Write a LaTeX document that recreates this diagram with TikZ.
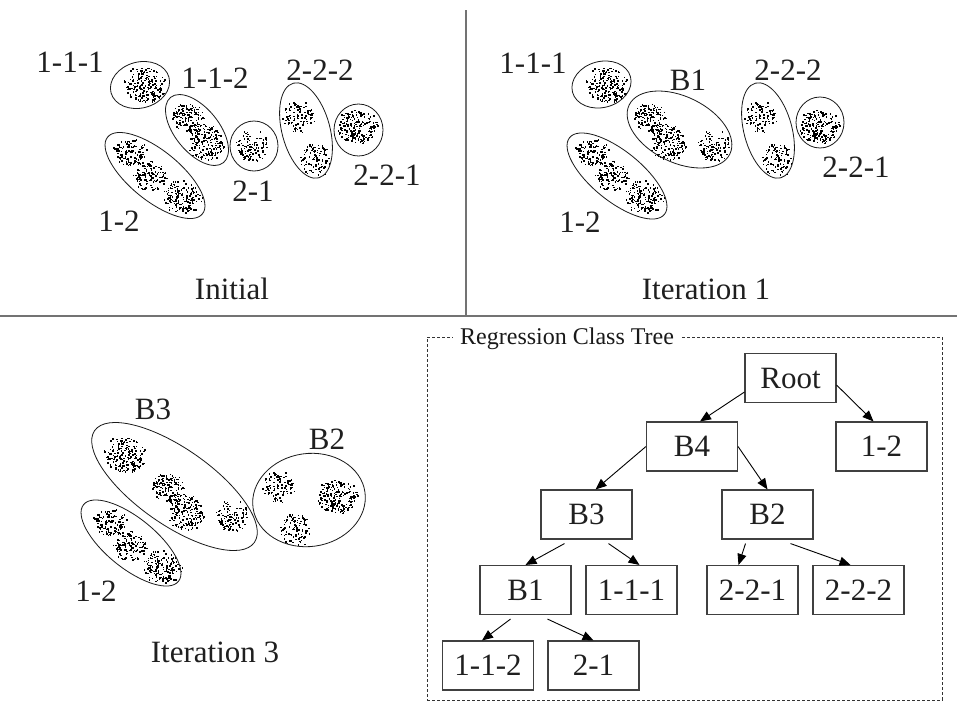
\documentclass[tikz,border=0pt]{standalone}
\usepackage{fontspec}
\setmainfont{Liberation Serif}
\usetikzlibrary{arrows.meta,shapes.geometric}

% one cluster of scattered points: centre x, centre y, radius x, radius y, count
\newcommand\dotblob[5]{%
  \foreach \k in {1,...,#5}{%
    \pgfmathsetmacro\dang{360*rnd}%
    \pgfmathsetmacro\drad{sqrt(rnd)*(0.8+0.2*rnd)}%
    \fill[dotc] ({#1+#3*\drad*cos(\dang)},{#2+#4*\drad*sin(\dang)}) rectangle ++(1.5,1.5);
  }}

% the full set of data clusters, in the coordinates of the first panel
\newcommand\dotcloud{%
  \dotblob{144}{84}{23}{20}{190}%
  \dotblob{188}{117}{17}{16}{140}%
  \dotblob{206}{142}{19}{19}{170}%
  \dotblob{130}{152}{18}{15}{125}%
  \dotblob{150}{176}{18}{16}{125}%
  \dotblob{182}{196}{21}{18}{160}%
  \dotblob{252}{146}{18}{18}{105}%
  \dotblob{298}{116}{18}{17}{95}%
  \dotblob{315}{159}{16}{18}{100}%
  \dotblob{358}{126}{23}{18}{210}%
}

\begin{document}
\begin{tikzpicture}[x=1pt,y=-1pt,
  dotc/.style={black},
  clus/.style={draw=black!90, line width=0.8pt, ellipse, inner sep=0pt, outer sep=0pt},
  lbl/.style={inner sep=0pt, text=black!88, font=\fontsize{31}{31}\selectfont},
  tnode/.style={draw=black!75, line width=1.1pt, minimum width=91pt, minimum height=49pt,
    inner sep=0pt, text=black!88, font=\fontsize{31}{31}\selectfont},
  arr/.style={-{Triangle[length=11pt,width=9pt]}, line width=0.9pt, black},
  divider/.style={draw=black!55, line width=1.4pt}]

\useasboundingbox (0,0) rectangle (957,702);

% panel dividers
\draw[divider] (466,10) -- (466,316);
\draw[divider] (0,316) -- (957,316);

% ---------- Initial ----------
\begin{scope}
  \pgfmathsetseed{7}\dotcloud
\end{scope}
\node[clus, minimum width=60pt, minimum height=46pt, rotate=15] (i0a) at (140,85) {};
\node[clus, minimum width=84pt, minimum height=44pt, rotate=-51] (i0b) at (197,130) {};
\node[clus, minimum width=122pt, minimum height=50pt, rotate=-39] (i0c) at (155,175.5) {};
\node[clus, minimum width=48pt, minimum height=50pt] (i0d) at (254,146) {};
\node[clus, minimum width=98pt, minimum height=48pt, rotate=-75] (i0e) at (306,130.5) {};
\node[clus, minimum width=49pt, minimum height=52pt] (i0f) at (358.5,130) {};
\node[lbl] (l0a) at (70,62) {1-1-1};
\node[lbl] (l0b) at (215,78) {1-1-2};
\node[lbl] (l0c) at (320,70) {2-2-2};
\node[lbl] (l0d) at (253,191) {2-1};
\node[lbl] (l0e) at (387,175) {2-2-1};
\node[lbl] (l0f) at (119,221) {1-2};
\node[lbl] (t0) at (232,289) {Initial};

% ---------- Iteration 1 ----------
\begin{scope}[shift={(462,0)}]
  \pgfmathsetseed{7}\dotcloud
\end{scope}
\node[clus, minimum width=60pt, minimum height=46pt, rotate=15] (i1a) at (601.5,84.5) {};
\node[clus, minimum width=112pt, minimum height=66pt, rotate=-26] (i1b) at (679.5,129.5) {};
\node[clus, minimum width=122pt, minimum height=50pt, rotate=-39] (i1c) at (617,176) {};
\node[clus, minimum width=98pt, minimum height=48pt, rotate=-75] (i1d) at (768,130.5) {};
\node[clus, minimum width=48pt, minimum height=51pt] (i1e) at (820,122.5) {};
\node[lbl] (l1a) at (533,63) {1-1-1};
\node[lbl] (l1b) at (688,80) {B1};
\node[lbl] (l1c) at (788,70) {2-2-2};
\node[lbl] (l1d) at (856,167) {2-2-1};
\node[lbl] (l1e) at (580,222) {1-2};
\node[lbl] (t1) at (706,289) {Iteration 1};

% ---------- Iteration 3 ----------
\begin{scope}[shift={(-20,370)}]
  \pgfmathsetseed{7}\dotcloud
\end{scope}
\node[clus, minimum width=195pt, minimum height=76pt, rotate=-35] (i3a) at (174.5,486.5) {};
\node[clus, minimum width=113pt, minimum height=93pt, rotate=8] (i3b) at (309,500) {};
\node[clus, minimum width=122pt, minimum height=50pt, rotate=-39] (i3c) at (131,543) {};
\node[lbl] (l3a) at (153,409) {B3};
\node[lbl] (l3b) at (327,439) {B2};
\node[lbl] (l3c) at (96,591) {1-2};
\node[lbl] (t3) at (215,652) {Iteration 3};

% ---------- regression class tree ----------
\node[draw=black!80, line width=0.9pt, dash pattern=on 3pt off 2pt,
      minimum width=515pt, minimum height=363pt, inner sep=0pt] (frame) at (684.5,518.5) {};
\node[fill=white, inner xsep=7pt, inner ysep=2pt, anchor=base west, text=black!90,
      font=\fontsize{24}{24}\selectfont] (title) at (453,344) {Regression Class Tree};

\node[tnode] (Root) at (790.5,378) {Root};
\node[tnode] (B4)   at (692,446.5) {B4};
\node[tnode] (n12)  at (881.5,446.5) {1-2};
\node[tnode] (B3)   at (586.5,514.5) {B3};
\node[tnode] (B2)   at (767.5,514.5) {B2};
\node[tnode] (B1)   at (525.5,590) {B1};
\node[tnode] (n111) at (631.5,590) {1-1-1};
\node[tnode] (n221) at (752.5,590) {2-2-1};
\node[tnode] (n222) at (858.5,590) {2-2-2};
\node[tnode] (n112) at (488,665.5) {1-1-2};
\node[tnode] (n21)  at (593.5,665.5) {2-1};

\draw[arr] ([yshift=-14pt]Root.west) -- ([xshift=8pt]B4.north);
\draw[arr] ([yshift=-7pt]Root.east) -- ([xshift=-8pt]n12.north);
\draw[arr] (B4.west) -- ([xshift=9pt]B3.north);
\draw[arr] (B4.east) -- (B2.north);
\draw[arr] ([xshift=-22pt,yshift=-4pt]B3.south) -- (B1.north);
\draw[arr] ([xshift=22pt,yshift=-4pt]B3.south) -- ([xshift=8pt]n111.north);
\draw[arr] ([xshift=-22pt,yshift=-4pt]B2.south) -- ([xshift=-14pt]n221.north);
\draw[arr] ([xshift=23pt,yshift=-4pt]B2.south) -- ([xshift=-8pt]n222.north);
\draw[arr] ([xshift=-15pt,yshift=-4pt]B1.south) -- ([xshift=-6pt]n112.north);
\draw[arr] ([xshift=22pt,yshift=-4pt]B1.south) -- (n21.north);
\end{tikzpicture}
\end{document}
